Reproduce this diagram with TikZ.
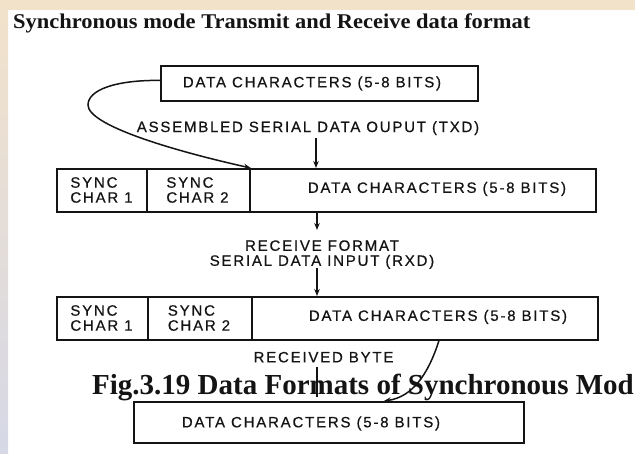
\documentclass[tikz,border=0pt]{standalone}
\usepackage{fontspec}
\usepackage{graphicx}
\setmainfont{Liberation Serif}
\newfontfamily\lblfont[LetterSpace=12,FakeBold=0.6]{Liberation Sans}
\usetikzlibrary{arrows.meta}
\definecolor{ink}{HTML}{141414}
\definecolor{bgtop}{HTML}{F2E2CA}
\definecolor{bgbot}{HTML}{D6D8E6}
\begin{document}
\begin{tikzpicture}[x=1pt,y=-1pt,
  box/.style={draw=ink, line width=1.8pt, inner sep=0pt, anchor=north west, minimum height=43pt},
  lbl/.style={font=\lblfont\fontsize{15}{15}\selectfont, text=ink, inner sep=0pt, text height=10.7pt, text depth=0pt},
  lblm/.style={font=\lblfont\fontsize{15}{15}\selectfont, text=ink, inner sep=0pt},
  arr/.style={draw=ink, line width=1.6pt, -{Stealth[length=7pt,width=5.5pt]}},
  curve/.style={draw=ink, line width=1.5pt, -{Stealth[length=7pt,width=5.5pt]}}
]
\useasboundingbox (0,0) rectangle (635,453);
\clip (0,0) rectangle (635,453);
\fill[white] (0,0) rectangle (635,453);
\fill[bgtop] (0,0) rectangle (635,10);
\shade[top color=bgtop, bottom color=bgbot] (0,0) rectangle (8,453);

% title
\node[anchor=base west, inner sep=0pt, font=\bfseries\fontsize{21}{21}\selectfont, text=ink] (title) at (13,28)
  {\scalebox{1.07}[1]{Synchronous mode Transmit and Receive data format}};

% top box
\node[box, minimum width=317pt, minimum height=35pt] (top) at (160,65) {};
\node[lbl] (toptxt) at (312,82) {DATA CHARACTERS (5-8 BITS)};

\node[lbl] (asm) at (308,126.7) {ASSEMBLED SERIAL DATA OUPUT (TXD)};

% row 1
\node[box, minimum width=90pt] (s11) at (56,168) {};
\node[box, minimum width=103pt] (s12) at (146,168) {};
\node[box, minimum width=346pt] (d1) at (249,168) {};
\node[lblm, align=left] (s11t) at (101.5,190) {SYNC\\CHAR 1};
\node[lblm, align=left] (s12t) at (197.5,190) {SYNC\\CHAR 2};
\node[lbl] (d1t) at (437,187.5) {DATA CHARACTERS (5-8 BITS)};

\node[lblm, align=center] (rxd) at (322,254.6) {RECEIVE FORMAT\\SERIAL DATA INPUT (RXD)};

% row 2
\node[box, minimum width=91pt] (s21) at (56,296) {};
\node[box, minimum width=104pt] (s22) at (147,296) {};
\node[box, minimum width=346pt] (d2) at (251,296) {};
\node[lblm, align=left] (s21t) at (101.5,318) {SYNC\\CHAR 1};
\node[lblm, align=left] (s22t) at (199,318) {SYNC\\CHAR 2};
\node[lbl] (d2t) at (438,315.5) {DATA CHARACTERS (5-8 BITS)};

\node[lbl] (rb) at (323.5,357) {RECEIVED BYTE};

% caption
\node[anchor=base west, inner sep=0pt, font=\bfseries\fontsize{29}{29}\selectfont, text=ink] (cap) at (92,394)
  {Fig.3.19 Data Formats of Synchronous Mod};

% bottom box
\node[box, minimum width=390pt, minimum height=41pt] (bot) at (133,401) {};
\node[lbl] (bott) at (311,422) {DATA CHARACTERS (5-8 BITS)};

% connectors
\coordinate (c0) at ([yshift=3pt]top.west);
\coordinate (c1) at (88,105);
\draw[curve] (c0) .. controls (115,80) and (88,90) .. (c1)
  .. controls (88,125) and (170,150) .. (s12.north east);

\coordinate (a1) at (316,138);
\draw[arr] (a1) -- (a1 |- d1.north);
\coordinate (a2) at (317,230);
\draw[arr] (a2 |- d1.south) -- (a2);
\coordinate (a3) at (317,268);
\draw[arr] (a3) -- (a3 |- d2.north);

\coordinate (b0) at ([xshift=14pt]d2.south);
\coordinate (b1) at ([xshift=55pt]bot.north);
\draw[curve] (b0) .. controls (428,375) and (412,397) .. (b1);

\coordinate (v1) at (317,367);
\coordinate (v2) at (317,397);
\draw[ink, line width=1.8pt] (v1) -- (v2);
\end{tikzpicture}
\end{document}
